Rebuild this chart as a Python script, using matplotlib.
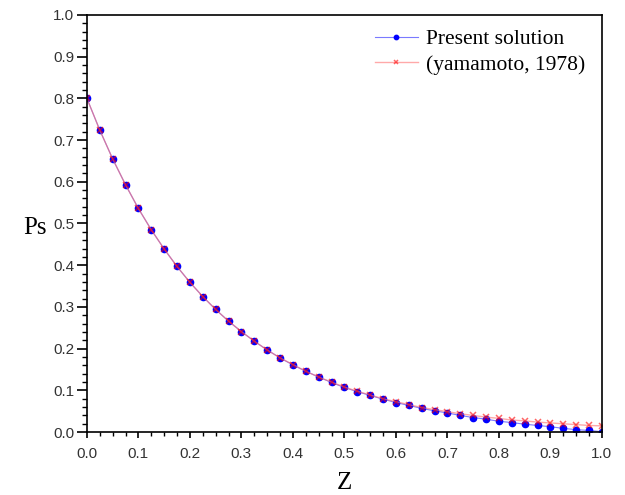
import matplotlib
matplotlib.use("Agg")
import matplotlib.pyplot as plt
from matplotlib.ticker import MultipleLocator, FormatStrFormatter

# Data
z = [0.0, 0.025, 0.05, 0.075, 0.1, 0.125, 0.15, 0.175, 0.2, 0.225,
     0.25, 0.275, 0.3, 0.325, 0.35, 0.375, 0.4, 0.425, 0.45, 0.475,
     0.5, 0.525, 0.55, 0.575, 0.6, 0.625, 0.65, 0.675, 0.7, 0.725,
     0.75, 0.775, 0.8, 0.825, 0.85, 0.875, 0.9, 0.925, 0.95, 0.975, 1.0]

ps_present = [0.800, 0.724, 0.655, 0.593, 0.536, 0.485, 0.439, 0.397, 0.359, 0.325,
              0.294, 0.266, 0.241, 0.218, 0.197, 0.178, 0.161, 0.146, 0.132, 0.119,
              0.107, 0.097, 0.088, 0.079, 0.071, 0.064, 0.057, 0.051, 0.046, 0.040,
              0.035, 0.031, 0.026, 0.023, 0.019, 0.016, 0.013, 0.009, 0.006, 0.004, 0.001]

ps_yamamoto = [0.800, 0.724, 0.655, 0.593, 0.536, 0.485, 0.439, 0.397, 0.359, 0.325,
               0.294, 0.266, 0.241, 0.218, 0.197, 0.178, 0.162, 0.146, 0.132, 0.120,
               0.108, 0.098, 0.089, 0.080, 0.073, 0.066, 0.059, 0.054, 0.049, 0.044,
               0.040, 0.036, 0.033, 0.029, 0.027, 0.024, 0.022, 0.020, 0.018, 0.016, 0.015]

labels = ["Present solution", "(yamamoto, 1978)"]

# ---------- Figure ----------
fig = plt.figure(figsize=(6.25, 4.95), dpi=100)
ax = fig.add_axes([0.139, 0.127, 0.824, 0.843])

ax.plot(z, ps_present, color="#7a7aff", lw=0.8, marker="o", markersize=4.5,
        markerfacecolor="blue", markeredgecolor="blue", label=labels[0])
ax.plot(z, ps_yamamoto, color="#ff7070", lw=1.0, marker="x", markersize=4,
        markeredgecolor="red", markeredgewidth=1.1, alpha=0.6, label=labels[1])

ax.set_xlim(0, 1)
ax.set_ylim(0, 1)
ax.xaxis.set_major_locator(MultipleLocator(0.1))
ax.xaxis.set_minor_locator(MultipleLocator(0.025))
ax.yaxis.set_major_locator(MultipleLocator(0.1))
ax.yaxis.set_minor_locator(MultipleLocator(0.02))
ax.xaxis.set_major_formatter(FormatStrFormatter("%.1f"))
ax.yaxis.set_major_formatter(FormatStrFormatter("%.1f"))

# Ticks only on bottom and left, pointing out
ax.tick_params(which="both", direction="out", top=False, right=False)
ax.tick_params(axis="x", which="major", length=4.5, width=1.2, pad=6)
ax.tick_params(axis="x", which="minor", length=3, width=1.0)
ax.tick_params(axis="y", which="major", length=7, width=1.2, pad=2)
ax.tick_params(axis="y", which="minor", length=3.5, width=1.0)
ax.tick_params(which="major", labelsize=11, labelcolor="#333333")
for lab in ax.get_xticklabels() + ax.get_yticklabels():
    lab.set_fontfamily("Liberation Sans")
for s in ax.spines.values():
    s.set_linewidth(1.2)

ax.set_xlabel("Z", fontfamily="Liberation Serif", fontsize=18, va="center")
ax.xaxis.set_label_coords(0.5, -0.122)
ax.set_ylabel("Ps", fontfamily="Liberation Serif", fontsize=18, rotation=0,
              va="center", ha="center")
ax.yaxis.set_label_coords(-0.1, 0.488)

ax.legend(loc="upper right", bbox_to_anchor=(0.985, 0.986), frameon=False,
          prop={"family": "Liberation Serif", "size": 15.5},
          handlelength=2.0, handletextpad=0.4, borderaxespad=0.0,
          labelspacing=0.25, markerscale=0.7)

fig.savefig("out.png", dpi=100)
